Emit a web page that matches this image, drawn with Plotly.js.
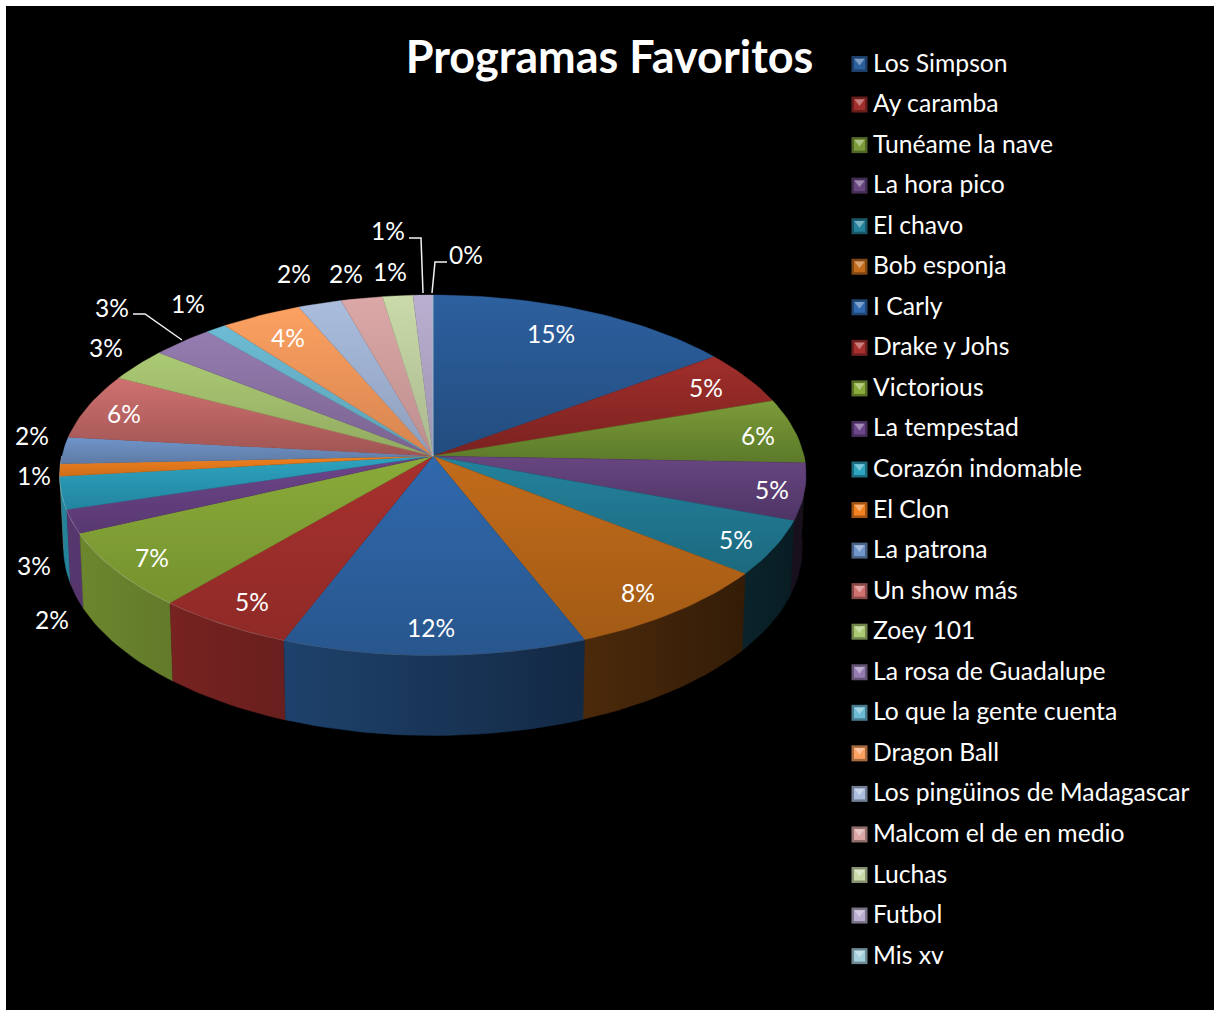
<!DOCTYPE html>
<html>
<head>
<meta charset="utf-8">
<script src="https://cdn.plot.ly/plotly-3.0.1.min.js"></script>
<style>html,body{margin:0;padding:0;background:#fff}#chart{width:1214px;height:1010px}</style>
</head>
<body>
<div id="chart"></div>
<script>
// ---- data ----
const categories = ["Los Simpson","Ay caramba","Tunéame la nave","La hora pico","El chavo","Bob esponja","I Carly","Drake y Johs","Victorious","La tempestad","Corazón indomable","El Clon","La patrona","Un show más","Zoey 101","La rosa de Guadalupe","Lo que la gente cuenta","Dragon Ball","Los pingüinos de Madagascar","Malcom el de en medio","Luchas","Futbol","Mis xv"];
const shares = [14.9,4.9,5.8,5.1,4.9,8.4,11.9,5.4,6.9,2.1,2.9,1.1,2.4,5.9,3,3,1,3.9,2.1,2,1.45,0.95,0];
const chartTitle = "Programas Favoritos";

// ---- styles ----
const gradStart = ["#2d609f","#a02e2b","#7c9c39","#684680","#24829c","#c26b1b","#3069ad","#a7312e","#8aab3b","#6d458a","#2ea4c0","#f2811f","#6f95ca","#d07170","#abca74","#967db1","#6dbbd5","#fca161","#aabddd","#dca8a7","#cadaa9","#baafd0","#a5d0de"];
const gradEnd   = ["#224c7e","#7a2220","#5b7929","#4e3465","#1b697f","#a35b14","#28568d","#8f2a27","#75922e","#593971","#2284a0","#ce6d19","#5e7aa4","#9f5553","#92aa61","#796390","#5da2b5","#d68450","#8e9fbc","#bb8e8d","#aab88e","#9d94af","#8db3bf"];
const labelX = [551,706,758,772,736,638,431,252,152,52,34,34,32,124,106,112,188,288,294,346,390,388,466];
const labelY = [333,387,435,489,539,592,627,601,557,619,565,475,435,413,347,307,303,337,273,273,271,230,254];
const leaderX = [[133,145,182],[409,421,423],[447,435,432]];
const leaderY = [[314,314,340],[238,238,293],[262,262,293]];
const FONT = "Lato, Carlito, Calibri, sans-serif";

// ---- perspective disc ----
const cx=433, cy=456, A=371, B=178, k=0.1056, depth=72, shrink=0.99;
function rad(d){return d*Math.PI/180;}
function rim(t){const u=Math.sin(rad(t)),v=Math.cos(rad(t)),w=1+k*v;return [cx+A*u/w, cy-B*v/w, w];}
function rimLow(t){const p=rim(t);return [cx+(p[0]-cx)*shrink, p[1]+depth/p[2]];}
function rgb(h){return [1,3,5].map(i=>parseInt(h.substr(i,2),16));}
function css(c){return "rgb("+c.map(x=>Math.round(Math.min(255,Math.max(0,x)))).join(",")+")";}
function scale(h,f){return css(rgb(h).map(x=>x*f));}
function mix(h,f){return css(rgb(h).map(x=>x+(255-x)*f));}
function avg(h1,h2){const a=rgb(h1),b=rgb(h2);return css(a.map((x,i)=>(x+b[i])/2));}
function wallShade(x){return 0.80-(x-62)*0.58/740;}
function arc(a,b){const n=Math.max(2,Math.ceil((b-a)/1.5)),r=[];for(let i=0;i<=n;i++)r.push(a+(b-a)*i/n);return r;}

const total = shares.reduce((s,x)=>s+x,0);
let acc=0;
const bounds = shares.map(s=>{const a=acc/total*360;acc+=s;return [a,acc/total*360];});

const walls=[], rims=[], tops=[];
bounds.forEach((bd,i)=>{
  const a=Math.max(bd[0],90), b=Math.min(bd[1],270);
  if(b>a){
    const ts=arc(a,b), up=ts.map(rim), lo=ts.map(rimLow).reverse();
    const xs=up.map(p=>p[0]).concat(lo.map(p=>p[0]));
    const ys=up.map(p=>p[1]).concat(lo.map(p=>p[1]));
    const x0=Math.min(...xs), x1=Math.max(...xs);
    walls.push({order:Math.abs((a+b)/2-180), trace:{type:"scatter",mode:"lines",x:xs.concat(xs[0]),y:ys.concat(ys[0]),fill:"toself",
      line:{width:0.5,color:scale(gradStart[i],wallShade((x0+x1)/2))},
      fillgradient:{type:"horizontal",start:x0,stop:x1,colorscale:[[0,scale(gradStart[i],wallShade(x0))],[1,scale(gradStart[i],wallShade(x1))]]},
      name:categories[i],hoverinfo:"name",showlegend:false}});
    const mid=rim((a+b)/2)[0], al=Math.max(0,0.38*(1-(mid-62)/640));
    rims.push({type:"scatter",mode:"lines",x:up.map(p=>p[0]),y:up.map(p=>p[1]),line:{width:1.6,color:"rgba(255,255,255,"+al.toFixed(3)+")"},hoverinfo:"skip",showlegend:false});
  }
  const pts=arc(bd[0],bd[1]).map(rim);
  const xs=[cx].concat(pts.map(p=>p[0]),cx), ys=[cy].concat(pts.map(p=>p[1]),cy);
  tops.push({type:"scatter",mode:"lines",x:xs,y:ys,fill:"toself",
    line:{width:0.4,color:avg(gradStart[i],gradEnd[i])},
    fillgradient:{type:"vertical",start:Math.min(...ys),stop:Math.max(...ys),colorscale:[[0,gradStart[i]],[1,gradEnd[i]]]},
    name:categories[i],hoverinfo:"name",showlegend:false});
});
walls.sort((p,q)=>q.order-p.order);

// ---- legend column ----
const legendY = categories.map((c,i)=>64+i*40.55);
const swX = categories.map(()=>859.5);
const swatches = [
  {sym:"square",size:16,dy:0,col:gradStart.map(h=>scale(h,0.66))},
  {sym:"square",size:11,dy:0,col:gradStart.map(h=>h)},
  {sym:"triangle-down",size:9,dy:-3,col:gradStart.map(h=>mix(h,0.38))}
].map(s=>({type:"scatter",mode:"markers",x:swX,y:legendY.map(y=>y+s.dy),
  marker:{symbol:s.sym,size:s.size,color:s.col,line:{width:0}},hoverinfo:"skip",showlegend:false}));

const leaders = leaderX.map((xs,i)=>({type:"scatter",mode:"lines",x:xs,y:leaderY[i],line:{width:1.5,color:"#f2f2f2"},hoverinfo:"skip",showlegend:false}));

const annotations = categories.map((c,i)=>({xref:"x",yref:"y",x:871,y:legendY[i]-2,text:c,showarrow:false,xanchor:"left",yanchor:"middle",
    font:{family:FONT,size:24.7,color:"#fff"}}))
  .concat(shares.map((s,i)=>({xref:"x",yref:"y",x:labelX[i],y:labelY[i],text:(s/total*100).toFixed(0)+"%",showarrow:false,xanchor:"center",yanchor:"middle",
    font:{family:FONT,size:24.5,color:"#fff"}})));

Plotly.newPlot("chart", walls.map(w=>w.trace).concat(rims,tops,leaders,swatches), {
  width:1214,height:1010,
  margin:{l:6,r:0,t:6,b:0,pad:0},
  paper_bgcolor:"#ffffff",plot_bgcolor:"#000000",
  title:{text:chartTitle,x:606.5/1214,xref:"paper",xanchor:"center",y:1-57/1010,yref:"container",yanchor:"middle",font:{family:FONT,size:45,color:"#fff",weight:700}},
  xaxis:{range:[6,1214],visible:false,fixedrange:true},
  yaxis:{range:[1010,6],visible:false,fixedrange:true},
  showlegend:false,hovermode:"closest",
  annotations:annotations
},{displayModeBar:false});
</script>
</body>
</html>
